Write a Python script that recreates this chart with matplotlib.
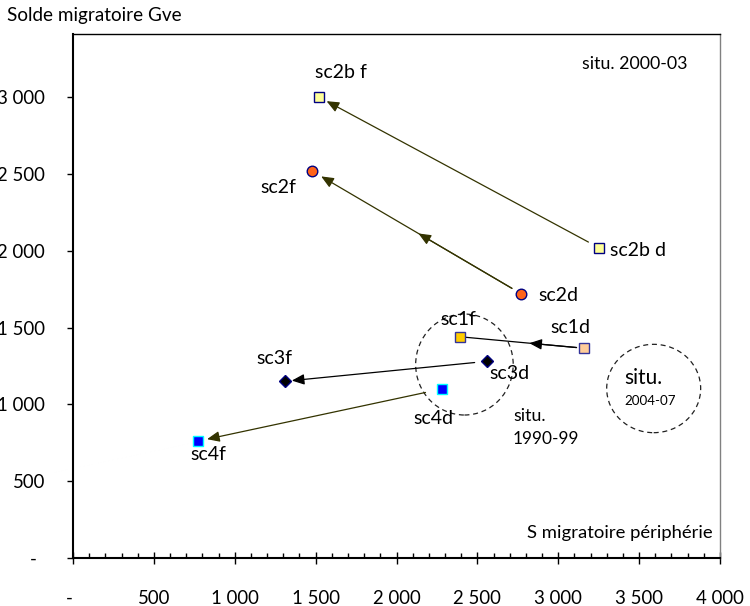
import matplotlib
matplotlib.use("Agg")
import matplotlib.pyplot as plt
from matplotlib.patches import Ellipse
from matplotlib.ticker import FuncFormatter, MultipleLocator
from matplotlib.transforms import ScaledTranslation

plt.rcParams['font.family'] = ['Lato', 'DejaVu Sans']

# ---- data ----
scenarios = ["sc2b", "sc2", "sc1", "sc3", "sc4"]
x_debut = [3250, 2770, 3160, 2560, 2280]   # "d" points (S migratoire périphérie)
y_debut = [2020, 1720, 1365, 1280, 1100]   # "d" points (Solde migratoire Gve)
x_fin = [1520, 1475, 2390, 1310, 770]      # "f" points
y_fin = [3000, 2520, 1440, 1150, 760]
labels_debut = ["sc2b d", "sc2d", "sc1d", "sc3d", "sc4d"]
labels_fin = ["sc2b f", "sc2f", "sc1f", "sc3f", "sc4f"]

# circles (situation zones): centre x, centre y, width, height
zone_cx = [2420, 3590]
zone_cy = [1259, 1103]
zone_w = [603, 581]
zone_h = [657, 575]

x_ticks = [0, 500, 1000, 1500, 2000, 2500, 3000, 3500, 4000]
y_ticks = [0, 500, 1000, 1500, 2000, 2500, 3000]

# ---- styles ----
fill_d = ["#ffff99", "#ff6319", "#ffcc99", "#000000", "#0000ff"]
fill_f = ["#ffff99", "#ff6319", "#ffcc00", "#000000", "#0000ff"]
edges = ["#000080", "#000080", "#333399", "#000080", "#00ffff"]
shapes = ["s", "o", "s", "D", "s"]
msizes = [7.2, 7.6, 7.2, 6.0, 7.2]
arrow_col = ["#333300", "#333300", "#000000", "#000000", "#333300"]
end_head = [True, True, False, True, True]
mid_frac = [None, 0.49, 0.44, None, None]
shrink_start = [8.4, 7.6, 5.5, 9.0, 12.0]
shrink_end = [6.3, 8.0, 4.5, 5.0, 7.0]

# label offsets in pixels (dx, dy, ha)
off_d = [(11, -3, "left"), (17, -2, "left"), (-14, 21, "center"), (22, -12, "center"), (-8, -30, "center")]
off_f = [(22, 25, "center"), (-33, -17, "center"), (-1, 17, "center"), (-11, 23, "center"), (11, -13, "center")]

fig = plt.figure(figsize=(7.5, 6.06), dpi=100)
fig.patch.set_facecolor("white")
ax = fig.add_axes([73/750, 48/606, 647/750, 524/606])
ax.set_xlim(0, 4000)
ax.set_ylim(0, 3410)

px = 72/100  # pixels -> points
lab_fs = 14

head = "-|>,head_length=0.75,head_width=0.32"
for i in range(len(scenarios)):
    d = (x_debut[i], y_debut[i])
    f = (x_fin[i], y_fin[i])
    style = head if end_head[i] else "-"
    ax.annotate("", xy=f, xytext=d,
                arrowprops=dict(arrowstyle=style, color=arrow_col[i], lw=0.9,
                                shrinkA=shrink_start[i], shrinkB=shrink_end[i],
                                mutation_scale=10), zorder=2)
    if mid_frac[i] is not None:
        t = mid_frac[i]
        m = (d[0] + t * (f[0] - d[0]), d[1] + t * (f[1] - d[1]))
        ax.annotate("", xy=m, xytext=d,
                    arrowprops=dict(arrowstyle=head, color=arrow_col[i], lw=0.9,
                                    shrinkA=shrink_start[i], shrinkB=0,
                                    mutation_scale=10), zorder=2)
    ax.plot([d[0]], [d[1]], marker=shapes[i], ms=msizes[i], mfc=fill_d[i],
            mec=edges[i], mew=1.0, ls="none", zorder=3)
    ax.plot([f[0]], [f[1]], marker=shapes[i], ms=msizes[i], mfc=fill_f[i],
            mec=edges[i], mew=1.0, ls="none", zorder=3)
    dx, dy, ha = off_d[i]
    ax.annotate(labels_debut[i], xy=d, xytext=(dx * px, dy * px), textcoords="offset points",
                ha=ha, va="center", fontsize=lab_fs, color="black")
    dx, dy, ha = off_f[i]
    ax.annotate(labels_fin[i], xy=f, xytext=(dx * px, dy * px), textcoords="offset points",
                ha=ha, va="center", fontsize=lab_fs, color="black")

for cx, cy, w, h in zip(zone_cx, zone_cy, zone_w, zone_h):
    ax.add_patch(Ellipse((cx, cy), w, h, fill=False, edgecolor="#202020",
                         lw=0.9, ls=(0, (4, 3)), zorder=1))

# annotations
ax.text(0.9505, 0.933, "situ. 2000-03", transform=ax.transAxes, ha="right",
        va="baseline", fontsize=12.8)
ax.text(0.989, 0.039, "S migratoire périphérie", transform=ax.transAxes, ha="right",
        va="baseline", fontsize=13.3)
ax.text((624-73)/647, (558-384)/524, "situ.", transform=ax.transAxes, ha="left",
        va="baseline", fontsize=15)
ax.text((624-73)/647, (558-405)/524, "2004-07", transform=ax.transAxes, ha="left",
        va="baseline", fontsize=9.6)
ax.text((513-73)/647, (558-421)/524, "situ.", transform=ax.transAxes, ha="left",
        va="baseline", fontsize=12.8)
ax.text((513-73)/647, (558-443.5)/524, "1990-99", transform=ax.transAxes, ha="left",
        va="baseline", fontsize=12.4)
fig.text(7/750, 1 - 21/606, "Solde migratoire Gve", ha="left", va="baseline", fontsize=13.6)

# axes styling
def fmt(v, pos):
    if abs(v) < 1e-9:
        return "-"
    return f"{v:,.0f}".replace(",", " ")

ax.set_xticks(x_ticks)
ax.set_yticks(y_ticks)
ax.xaxis.set_major_formatter(FuncFormatter(fmt))
ax.yaxis.set_major_formatter(FuncFormatter(fmt))
ax.xaxis.set_minor_locator(MultipleLocator(100))
ax.tick_params(axis="x", which="major", direction="inout", length=8, width=1.0,
               pad=19, labelsize=13.4, color="black")
ax.tick_params(axis="x", which="minor", direction="in", length=3.6, width=1.0, color="black")
ax.tick_params(axis="y", which="major", direction="out", length=4, width=1.0,
               pad=16, labelsize=13.4, color="black")
ax.tick_params(axis="y", which="minor", left=False)

# accounting-style "-" zero labels sit a little further left
ytick0 = ax.yaxis.get_major_ticks()[0]
ytick0.label1.set_transform(ytick0.label1.get_transform()
                            + ScaledTranslation(-8/100, 0, fig.dpi_scale_trans))
xtick0 = ax.xaxis.get_major_ticks()[0]
xtick0.label1.set_transform(xtick0.label1.get_transform()
                            + ScaledTranslation(-3.5/100, 0, fig.dpi_scale_trans))

ax.spines["left"].set_linewidth(1.5)
ax.spines["bottom"].set_linewidth(1.5)
ax.spines["left"].set_color("black")
ax.spines["bottom"].set_color("black")
ax.spines["top"].set_linewidth(1.0)
ax.spines["top"].set_color("black")
ax.spines["right"].set_linewidth(1.0)
ax.spines["right"].set_color("#808080")

fig.savefig("out.png", dpi=100, facecolor="white")
